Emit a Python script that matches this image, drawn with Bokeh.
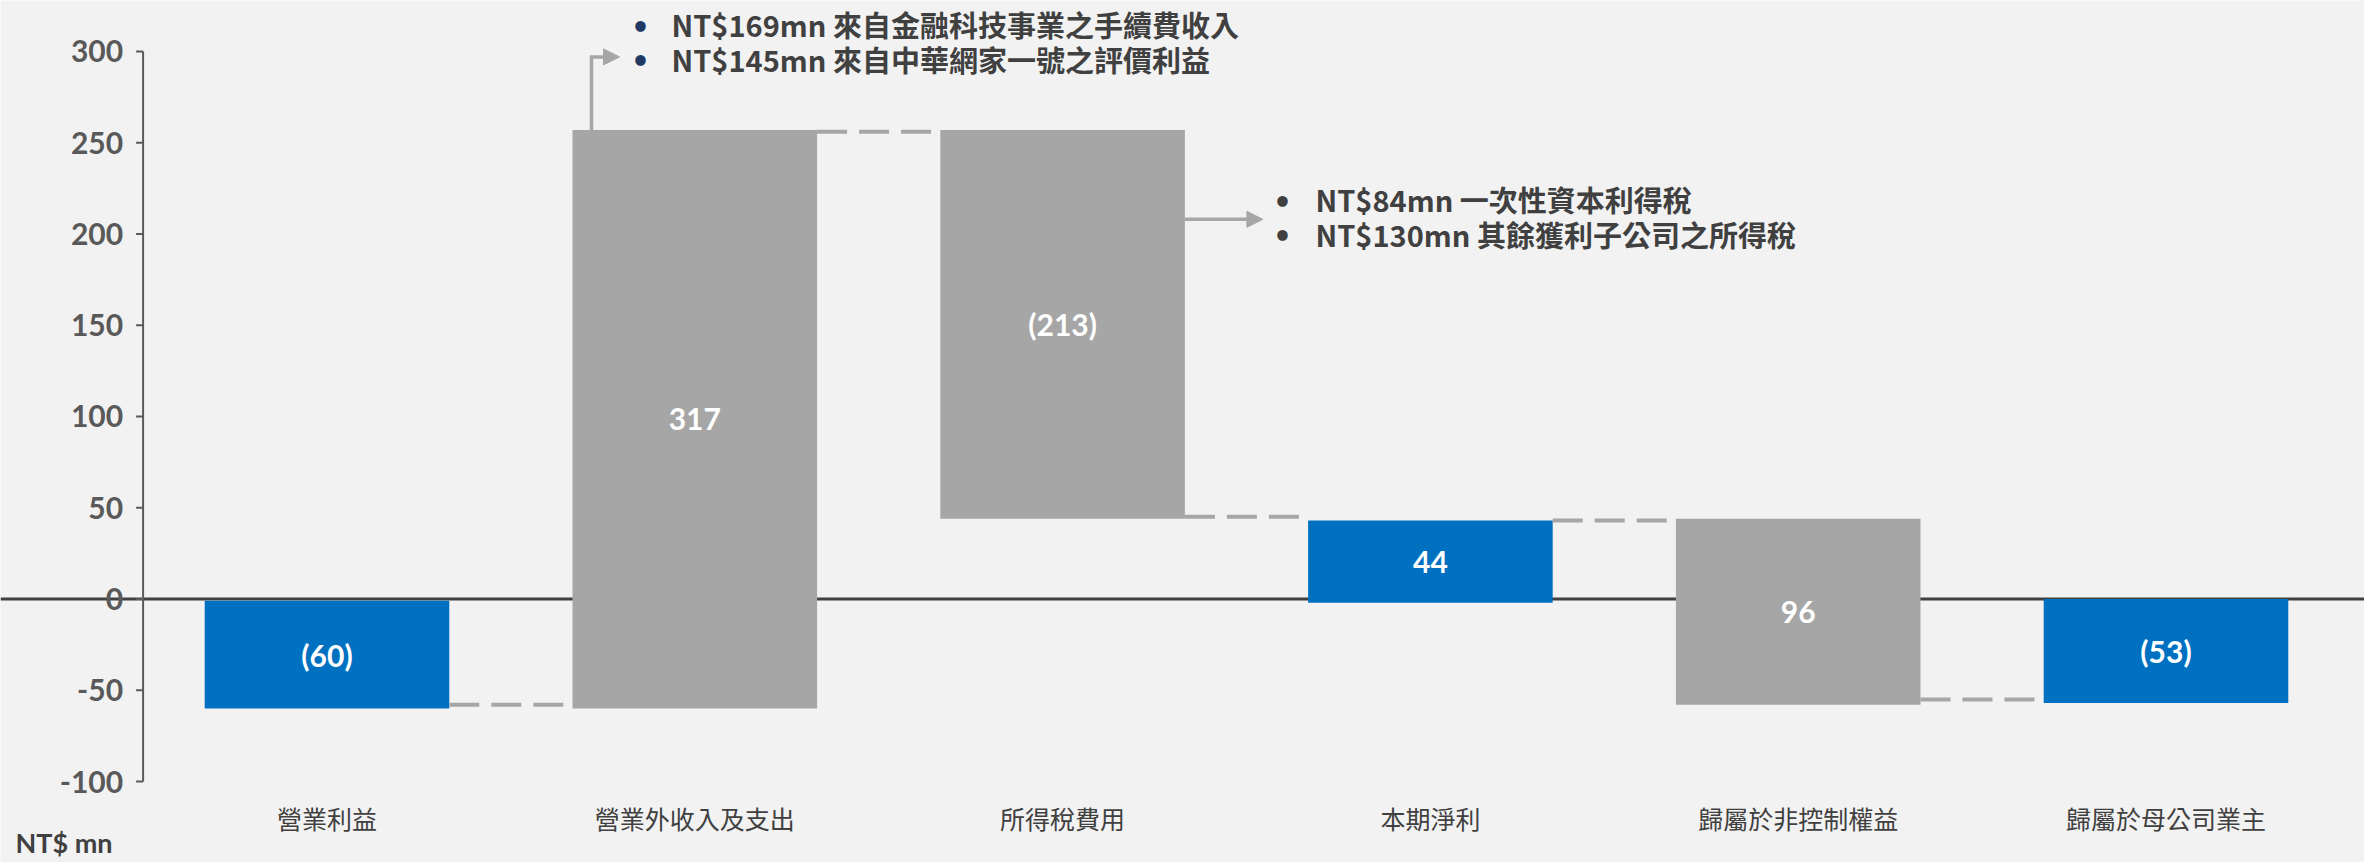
from bokeh.plotting import figure
from bokeh.models import Range1d, Span, Arrow, NormalHead, ColumnDataSource
from bokeh.embed import file_html
from bokeh.resources import INLINE
from bokeh.core.properties import value
import numpy as np

# ---- data ----
categories = ["營業利益", "營業外收入及支出", "所得稅費用", "本期淨利", "歸屬於非控制權益", "歸屬於母公司業主"]
bar_start = [-1, -60, 257, -2, 44, 0]
bar_end = [-60, 257, 44, 43, -58, -57]
value_labels = ["(60)", "317", "(213)", "44", "96", "(53)"]
bar_kind = ["total", "delta", "delta", "total", "delta", "total"]
connector_levels = [-58, 256, 45, 43, -55]
y_ticks = [-100, -50, 0, 50, 100, 150, 200, 250, 300]
y_tick_labels = ["-100", "-50", "0", "50", "100", "150", "200", "250", "300"]
note1_lines = ["NT$169mn 來自金融科技事業之手續費收入", "NT$145mn 來自中華網家一號之評價利益"]
note1_levels = [315, 296]
note2_lines = ["NT$84mn 一次性資本利得稅", "NT$130mn 其餘獲利子公司之所得稅"]
note2_levels = [219, 200]
arrow1_level = 297
arrow2_level = 208
unit_label = "NT$ mn"

BLUE = "#0070C0"
GREY = "#A6A6A6"
BG = "#F2F2F2"
TXT = "#404040"
AX = "#595959"

# ---- layout (pixels) ----
W, H = 2364, 862
X0_PX, CAT_PX = 142.6, 367.8     # x pixel of category origin, pixels per category
Y0_PX, UNIT_PX = 598.5, 1.8253   # y pixel of zero, pixels per unit
def ux(px):
    return px / CAT_PX
def uy(px):
    return px / UNIT_PX

n = len(categories)
xpos = np.arange(n) + 0.5
bw = 0.665
half = bw / 2

p = figure(width=W, height=H,
           x_range=Range1d(-ux(X0_PX), ux(W - X0_PX)),
           y_range=Range1d(-uy(H - Y0_PX), uy(Y0_PX)),
           x_axis_type=None, y_axis_type=None, min_border=0,
           output_backend="svg", toolbar_location=None)
p.min_border_left = p.min_border_right = p.min_border_top = p.min_border_bottom = 0
p.background_fill_color = BG
p.border_fill_color = BG
p.outline_line_color = None
p.grid.visible = False

# zero line under bars
p.add_layout(Span(location=0, dimension="width", line_color=TXT, line_width=3, level="underlay"))

colors = [BLUE if k == "total" else GREY for k in bar_kind]
src = ColumnDataSource(dict(
    x=xpos,
    bottom=[min(a, b) for a, b in zip(bar_start, bar_end)],
    top=[max(a, b) for a, b in zip(bar_start, bar_end)],
    color=colors,
    mid=[(a + b) / 2 for a, b in zip(bar_start, bar_end)],
    lab=value_labels,
))
p.vbar(x="x", bottom="bottom", top="top", width=bw, fill_color="color", line_color=None, source=src)
p.text(x="x", y="mid", text="lab", source=src, text_align="center", text_baseline="middle",
       text_color="white", text_font=value("Lato"), text_font_style="bold", text_font_size="30px")

# dashed connectors
p.segment(x0=list(xpos[:-1] + half), x1=list(xpos[1:] - half), y0=connector_levels, y1=connector_levels,
          line_color=GREY, line_width=4, line_dash="30 12")

# y axis (line, ticks, labels)
nt = len(y_ticks)
p.segment(x0=[0], x1=[0], y0=[y_ticks[0]], y1=[y_ticks[-1]], line_color=AX, line_width=2)
p.segment(x0=[-ux(7)] * nt, x1=[0] * nt, y0=y_ticks, y1=y_ticks, line_color=AX, line_width=2)
p.text(x=[-ux(20)] * nt, y=y_ticks, text=y_tick_labels, text_align="right", text_baseline="middle",
       text_color=AX, text_font=value("Lato"), text_font_style="bold", text_font_size="30px")

# category labels
cat_level = -uy(817 - Y0_PX)
p.text(x=list(xpos), y=[cat_level] * n, text=categories, text_align="center", text_baseline="middle",
       text_color=TXT, text_font=value("Noto Sans CJK TC"), text_font_size="25px")

# unit label
p.text(x=[-ux(X0_PX - 15)], y=[-uy(842 - Y0_PX)], text=[unit_label], text_align="left",
       text_baseline="middle", text_color=TXT, text_font=value("Lato"), text_font_style="bold",
       text_font_size="27px")

# arrow 1 (from top of bar 2)
ax1 = xpos[1] - half + ux(19)
p.segment(x0=[ax1], x1=[ax1], y0=[bar_end[1]], y1=[arrow1_level], line_color=GREY, line_width=3.5)
p.add_layout(Arrow(x_start=ax1 - ux(1.5), y_start=arrow1_level, x_end=ax1 + ux(28), y_end=arrow1_level,
                   line_color=GREY, line_width=3.5,
                   end=NormalHead(size=16, fill_color=GREY, line_color=GREY, line_width=1)))
# arrow 2 (from right edge of bar 3)
ax2 = xpos[2] + half
p.add_layout(Arrow(x_start=ax2, y_start=arrow2_level, x_end=ax2 + ux(78), y_end=arrow2_level,
                   line_color=GREY, line_width=3.5,
                   end=NormalHead(size=16, fill_color=GREY, line_color=GREY, line_width=1)))

def note(lines, levels, xb, xt, bullet_color):
    k = len(lines)
    p.text(x=[xb] * k, y=levels, text=["•"] * k, text_align="center", text_baseline="middle",
           text_color=bullet_color, text_font=value("Lato"), text_font_size="24px", text_font_style="bold")
    p.text(x=[xt] * k, y=levels, text=lines, text_align="left", text_baseline="middle",
           text_color=TXT, text_font=value("Noto Sans CJK TC"), text_font_size="29px",
           text_font_style="bold")

note(note1_lines, note1_levels, ux(640 - X0_PX), ux(671 - X0_PX), "#1F3864")
note(note2_lines, note2_levels, ux(1282 - X0_PX), ux(1315 - X0_PX), TXT)

open("out.html", "w").write(file_html(p, INLINE))
